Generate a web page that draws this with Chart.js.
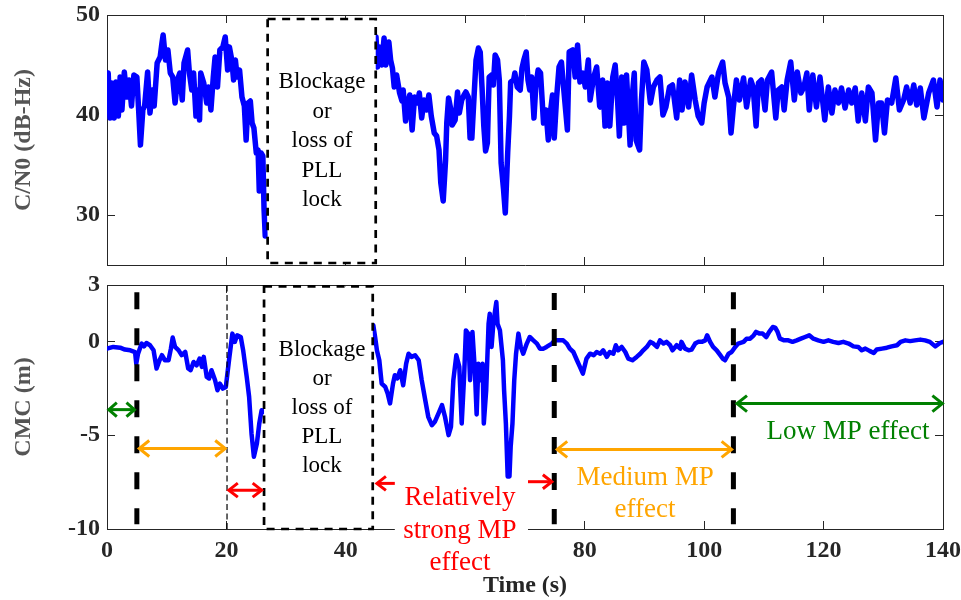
<!DOCTYPE html>
<html>
<head>
<meta charset="utf-8">
<title>C/N0 and CMC</title>
<script src="https://cdn.jsdelivr.net/npm/chart.js@4.4.1/dist/chart.umd.min.js"></script>
<style>
  html, body { margin: 0; padding: 0; background: #fff; overflow: hidden; }
  #wrap { position: relative; width: 961px; height: 600px; }
  #cno { position: absolute; left: 0; top: 0; width: 961px; height: 280px; }
  #cmc { position: absolute; left: 0; top: 270px; width: 961px; height: 330px; }
</style>
</head>
<body>
<div id="wrap">
  <canvas id="cno" width="961" height="280"></canvas>
  <canvas id="cmc" width="961" height="330"></canvas>
</div>
<script>
// ---------------------------------------------------------------------------
// Data
// ---------------------------------------------------------------------------
const timeTicks = [0, 20, 40, 60, 80, 100, 120, 140];
const cnoTicks  = [30, 40, 50];
const cmcTicks  = [-10, -5, 0, 3];

// C/N0 before the blockage
const cnoTimeBefore = [
  0, 0.2, 0.5, 0.8, 1.2, 1.5, 1.9, 2.2, 2.5, 2.9,
  3.3, 3.7, 4.1, 4.5, 5.0, 5.3, 5.6, 6.0, 6.3, 6.8,
  7.2, 7.6, 7.9, 8.4, 8.9, 9.2, 9.4, 9.8, 10.2, 10.6,
  11.0, 11.4, 11.8, 12.2, 12.6, 12.9, 13.5, 13.8, 14.2, 14.5,
  14.9, 15.2, 15.5, 15.7, 16.2, 16.7, 17.0, 17.4, 17.8, 18.1,
  18.5, 18.9, 19.4, 19.8, 20.2, 20.5, 20.9, 21.2, 21.5, 21.8,
  22.2, 22.6, 23.0, 23.3, 23.6, 24.0, 24.3, 24.6, 25.0, 25.3,
  25.5, 25.8, 26.1, 26.3, 26.5
];
const cnoValBefore = [
  43.7, 44.2, 39.7, 43.2, 39.7, 43.3, 39.9, 43.8, 40.5, 44.3,
  41.8, 43.5, 40.9, 44.0, 43.8, 40.5, 37.0, 40.5, 40.9, 44.3,
  40.2, 42.5, 40.9, 45.2, 45.8, 47.2, 48.0, 45.5, 46.5, 44.2,
  43.8, 41.2, 43.5, 44.2, 41.5, 45.2, 46.5, 44.2, 42.5, 44.2,
  39.9, 42.5, 39.5, 44.2, 43.2, 41.2, 42.8, 40.5, 43.8, 45.8,
  42.8, 46.5, 46.8, 47.8, 44.5, 46.8, 45.5, 43.5, 45.5, 43.8,
  44.5, 41.8, 40.9, 37.5, 41.2, 41.4, 39.2, 38.7, 36.2, 36.5,
  32.4, 36.2, 35.9, 30.6, 27.9
];

// C/N0 after the blockage
const cnoTimeAfter = [
  45.05, 45.3, 45.6, 46.0, 46.4, 46.7, 47.2, 47.5, 47.8, 48.1,
  48.5, 49.0, 49.4, 49.6, 50.0, 50.5, 50.7, 51.1, 51.5, 52.0,
  52.3, 52.7, 53.1, 53.5, 53.9, 54.3, 54.8, 55.2, 55.6, 55.9,
  56.3, 56.7, 56.9, 57.2, 57.6, 57.8, 58.3, 58.7, 59.0, 59.4,
  59.8, 60.1, 60.5, 60.8, 61.1, 61.5, 61.8, 62.2, 62.5, 62.8,
  63.1, 63.4, 63.7, 64.0, 64.4, 64.7, 65.0, 65.4, 65.7, 66.0,
  66.4, 66.7, 67.1, 67.4, 67.6, 68.1, 68.3, 68.7, 69.2, 69.5,
  69.8, 70.2, 70.5, 70.8, 71.1, 71.5, 71.8, 72.2, 72.6, 73.1,
  73.5, 73.9, 74.3, 74.6, 74.9, 75.3, 75.7, 76.1, 76.5, 77.1,
  77.4, 78.0, 78.4, 78.8, 79.2, 79.7, 80.1, 80.6, 80.9, 81.5,
  82.0, 82.5, 82.6, 83.0, 83.4, 83.8, 84.2, 84.7, 85.1, 85.5,
  85.8, 86.2, 86.6, 87.0, 87.6, 87.9, 88.3, 88.6, 89.2, 89.5,
  89.9, 90.4, 91.0, 91.5, 92.1, 92.6, 93.1, 93.6, 94.2, 94.7,
  95.4, 95.9, 96.3, 96.8, 97.4, 97.9, 98.5, 99.0, 99.6, 100.0,
  100.5, 101.3, 101.8, 102.4, 103.1, 103.5, 104.1, 104.5, 104.9, 105.4,
  105.9, 106.6, 107.1, 107.8, 108.2, 108.7, 109.1, 109.6, 110.2, 110.6,
  111.3, 112.0, 112.4, 113.0, 113.4, 113.9, 114.5, 115.1, 115.6, 116.2,
  116.7, 117.2, 117.6, 118.2, 118.8, 119.4, 120.2, 120.8, 121.4, 121.9,
  122.5, 123.0, 123.6, 124.2, 124.7, 125.3, 125.8, 126.4, 127.0, 127.5,
  128.1, 128.7, 129.2, 129.7, 130.2, 130.7, 131.4, 132.1, 132.7, 133.4,
  133.9, 134.5, 135.1, 135.6, 136.2, 136.8, 137.6, 138.4, 139.0, 139.5,
  140.0
];
const cnoValAfter = [
  47.8, 44.8, 46.8, 45.0, 47.7, 45.0, 47.3, 45.5, 44.7, 42.8,
  44.0, 42.2, 41.4, 42.5, 39.4, 41.5, 42.0, 38.5, 41.8, 41.2,
  42.2, 39.7, 41.5, 40.5, 42.0, 39.9, 38.2, 37.9, 36.5, 33.2,
  31.4, 35.5, 39.2, 41.7, 40.5, 39.0, 39.5, 42.3, 40.2, 41.5,
  42.0, 42.3, 41.8, 37.7, 37.7, 42.2, 45.5, 46.7, 46.3, 42.8,
  38.9, 36.4, 37.2, 43.8, 44.0, 43.0, 46.0, 45.5, 43.5, 35.2,
  32.6, 30.2, 36.2, 39.9, 43.3, 43.5, 44.2, 42.8, 42.5, 44.7,
  45.5, 46.3, 43.5, 42.5, 43.8, 39.7, 42.8, 44.5, 44.2, 39.2,
  40.5, 37.5, 40.5, 42.0, 37.7, 41.8, 44.8, 45.3, 42.5, 38.5,
  46.3, 46.5, 43.8, 47.0, 43.3, 44.2, 42.8, 45.5, 41.5, 43.8,
  44.8, 40.9, 40.8, 43.5, 38.9, 43.2, 38.9, 43.8, 45.0, 41.5,
  37.9, 43.8, 39.2, 44.0, 37.0, 41.5, 44.2, 37.5, 36.5, 41.5,
  45.3, 44.5, 41.2, 42.8, 43.5, 43.8, 40.0, 40.8, 42.8, 43.0,
  39.7, 43.5, 40.5, 43.3, 40.8, 44.0, 41.5, 39.9, 39.2, 41.2,
  42.8, 43.8, 41.8, 44.2, 45.3, 43.2, 41.8, 38.2, 40.8, 43.5,
  41.5, 43.7, 40.8, 43.5, 42.8, 38.9, 43.2, 43.5, 40.5, 43.5,
  44.3, 39.7, 42.5, 42.8, 40.5, 43.5, 45.3, 41.5, 44.3, 42.2,
  42.8, 44.2, 40.5, 44.0, 40.8, 43.8, 39.5, 42.8, 40.2, 42.5,
  41.2, 42.7, 40.7, 42.5, 41.2, 42.7, 39.4, 42.2, 39.4, 42.8,
  42.2, 37.5, 41.2, 41.2, 38.2, 41.5, 41.2, 43.7, 40.5, 41.5,
  42.8, 41.2, 43.0, 41.0, 42.7, 39.7, 42.2, 43.5, 40.8, 43.5,
  41.5
];

// CMC before the blockage
const cmcTimeBefore = [
  0, 1.06, 2.2, 3.0, 3.9, 4.7, 4.9, 5.2, 5.8, 6.2,
  6.6, 7.2, 7.8, 8.3, 8.8, 9.2, 9.7, 10.3, 10.7, 11.0,
  11.4, 12.0, 12.5, 13.1, 13.6, 14.0, 14.5, 15.0, 15.5, 15.9,
  16.2, 16.7, 17.1, 17.5, 18.1, 18.5, 18.9, 19.4, 19.9, 20.5,
  21.0, 21.4, 21.8, 22.4, 22.8, 23.4, 23.8, 24.2, 24.6, 25.1,
  25.5, 25.9, 26.2
];
const cmcValBefore = [
  -0.39, -0.3, -0.34, -0.44, -0.48, -0.57, -1.19, -0.66, -0.12, -0.27,
  -0.09, -0.21, -0.48, -1.45, -1.01, -0.74, -1.01, -1.01, -0.39, 0.2,
  -0.3, -0.48, -0.74, -0.57, -1.45, -1.54, -1.1, -1.28, -0.92, -1.36,
  -0.83, -1.9, -1.98, -1.54, -2.07, -2.61, -2.25, -2.52, -2.43, -0.83,
  0.41, -0.03, 0.32, 0.23, -0.48, -1.9, -2.96, -4.91, -6.15, -5.44,
  -4.38, -3.67, -3.76
];

// CMC after the blockage
const cmcTimeAfter = [
  44.6, 44.9, 45.2, 45.6, 46.0, 46.6, 47.0, 47.4, 47.9, 48.2,
  48.6, 49.1, 49.6, 50.1, 50.5, 51.0, 51.6, 52.2, 52.7, 53.3,
  53.8, 54.4, 54.9, 55.5, 56.1, 56.6, 57.2, 57.6, 58.0, 58.5,
  59.0, 59.4, 59.8, 60.1, 60.5, 60.8, 61.2, 61.6, 61.9, 62.2,
  62.6, 62.9, 63.1, 63.5, 63.9, 64.1, 64.4, 64.7, 65.0, 65.2,
  65.4, 65.8, 66.3, 66.5, 66.8, 67.1, 67.4, 67.6, 67.9, 68.2,
  68.5, 68.9, 69.3, 69.7, 70.3, 70.8, 71.4, 72.0, 72.5, 73.1,
  73.6, 74.5, 75.0, 75.9, 76.4, 77.0, 77.5, 78.1, 78.7, 79.2,
  79.7, 80.3, 80.9, 81.5, 82.0, 82.6, 83.1, 83.7, 84.2, 84.8,
  85.2, 85.6, 86.2, 86.8, 87.3, 88.0, 88.7, 89.3, 89.8, 90.4,
  91.0, 91.5, 92.1, 92.6, 93.2, 93.7, 94.3, 94.7, 95.4, 96.0,
  96.2, 96.8, 97.4, 97.9, 98.5, 99.0, 99.6, 100.2, 100.5, 101.0,
  101.5, 102.1, 102.7, 103.1, 103.5, 104.1, 104.6, 105.2, 105.7, 106.6,
  107.1, 107.7, 108.3, 108.7, 109.3, 109.8, 110.4, 110.9, 111.5, 111.9,
  112.3, 112.7, 113.4, 114.1, 114.8, 115.5, 116.2, 116.9, 117.6, 118.3,
  119.1, 120.0, 120.8, 121.6, 122.5, 123.3, 124.2, 125.0, 125.8, 126.4,
  127.0, 127.7, 128.4, 128.9, 129.8, 130.6, 131.4, 132.3, 132.9, 133.7,
  134.5, 135.3, 136.2, 137.0, 137.8, 138.7, 139.5, 140.0
];
const cmcValAfter = [
  0.85, 0.23, -0.48, -1.01, -2.25, -2.43, -2.78, -3.31, -2.25, -1.81,
  -1.98, -1.54, -2.34, -1.19, -0.66, -0.83, -0.74, -1.01, -2.07, -3.14,
  -4.02, -4.47, -4.29, -3.85, -3.4, -4.02, -5.0, -4.56, -2.07, -0.74,
  -1.36, -4.38, -1.9, 0.58, 0.41, -2.07, 0.5, -1.54, -3.9, -1.19,
  -2.07, -1.19, -4.38, -2.61, 0.94, 1.47, -0.3, 0.94, 1.65, 2.09,
  0.94, 0.59, -1.01, -2.61, -4.38, -7.2, -7.2, -5.62, -4.38, -2.07,
  -0.66, 0.41, -0.3, -0.66, -0.12, 0.23, 0.05, -0.12, -0.39, -0.39,
  -0.3, -0.12, 0.05, 0.05, 0.05, -0.12, -0.39, -0.57, -1.01, -1.36,
  -1.72, -0.92, -0.66, -0.74, -0.57, -0.66, -0.48, -0.83, -0.57, -0.66,
  -0.21, -0.48, -0.3, -0.57, -0.92, -1.01, -0.83, -0.66, -0.48, -0.3,
  -0.03, -0.12, -0.3, 0.05, -0.12, -0.03, -0.21, -0.48, -0.21, -0.39,
  -0.03, -0.39, -0.48, -0.44, -0.12, -0.03, -0.03, 0.05, 0.32, -0.03,
  -0.3, -0.48, -0.74, -0.92, -1.01, -0.66, -0.57, -0.3, -0.12, -0.03,
  0.14, 0.14, 0.32, 0.5, 0.41, 0.41, 0.23, 0.5, 0.76, 0.73,
  0.5, 0.14, 0.05, 0.05, -0.03, 0.05, 0.14, 0.23, 0.32, 0.14,
  0.05, -0.03, 0.05, -0.03, -0.09, -0.03, -0.12, -0.27, -0.3, -0.48,
  -0.39, -0.51, -0.62, -0.44, -0.39, -0.34, -0.27, -0.21, -0.03, 0.05,
  0.01, 0.05, 0.09, 0.05, -0.03, -0.27, -0.09, -0.03
];

// annotation texts
const blockageLines = ['Blockage', 'or', 'loss of', 'PLL', 'lock'];
const strongLines   = ['Relatively', 'strong MP', 'effect'];
const mediumLines   = ['Medium MP', 'effect'];
const lowLines      = ['Low MP effect'];

// ---------------------------------------------------------------------------
// Style
// ---------------------------------------------------------------------------
const FONT   = '"Liberation Serif", "Times New Roman", serif';
const INK    = '#262626';
const BLUE   = '#0000ff';
const GREEN  = '#008000';
const ORANGE = '#ffa500';
const RED    = '#ff0000';

function pts(ts, vs){ return ts.map((t, i) => ({ x: t, y: vs[i] })); }

// overlay: boxes, dashed dividers, arrows and labels in data units
const overlay = {
  id: 'overlay',
  afterDraw(chart, args, opts){
    const ctx = chart.ctx;
    const X = v => chart.scales.x.getPixelForValue(v);
    const Y = v => chart.scales.y.getPixelForValue(v);
    ctx.save();
    for (const m of (opts.marks || [])){
      ctx.setLineDash([]);
      ctx.lineCap = 'butt';
      if (m.type === 'rect'){
        const x0 = X(m.x0), x1 = X(m.x1), y0 = Y(m.y1), y1 = Y(m.y0);
        if (m.fill){ ctx.fillStyle = m.fill; ctx.fillRect(x0, y0, x1 - x0, y1 - y0); }
        ctx.strokeStyle = '#000'; ctx.lineWidth = 2.7; ctx.setLineDash([8, 6.5]);
        ctx.strokeRect(x0, y0, x1 - x0, y1 - y0);
      } else if (m.type === 'mask'){
        ctx.fillStyle = '#fff';
        ctx.fillRect(X(m.x0), Y(m.y1), X(m.x1) - X(m.x0), Y(m.y0) - Y(m.y1));
      } else if (m.type === 'vline'){
        ctx.strokeStyle = '#000'; ctx.lineWidth = m.width; ctx.setLineDash(m.dash);
        ctx.beginPath(); ctx.moveTo(X(m.x), Y(m.y0)); ctx.lineTo(X(m.x), Y(m.y1)); ctx.stroke();
      } else if (m.type === 'arrow'){
        const a = X(m.x0), b = X(m.x1), y = Y(m.y);
        const L = m.len || 10, H = m.half || 8;
        ctx.strokeStyle = m.color; ctx.lineWidth = m.width || 3; ctx.lineJoin = 'miter';
        ctx.beginPath(); ctx.moveTo(a, y); ctx.lineTo(b, y); ctx.stroke();
        const head = (tip, dir) => {
          ctx.beginPath();
          ctx.moveTo(tip - dir * L, y - H); ctx.lineTo(tip, y); ctx.lineTo(tip - dir * L, y + H);
          ctx.stroke();
        };
        if (m.start) head(a, -1);
        if (m.end) head(b, 1);
      } else if (m.type === 'text'){
        ctx.fillStyle = m.color;
        ctx.font = `${m.size}px ${FONT}`;
        ctx.textAlign = 'center'; ctx.textBaseline = 'middle';
        const x = X(m.x), y = Y(m.y);
        m.lines.forEach((s, i) => ctx.fillText(s, x, y + i * m.gap));
      }
    }
    ctx.restore();
  }
};

// keep the plot frame where the figure has it: no extra room for label overhang
function noOverhang(s){ s.paddingLeft = s.paddingRight = s.paddingTop = s.paddingBottom = 0; }

function xAxis(position, labels, height, title){
  return {
    type: 'linear', position, min: 0, max: 140,
    afterBuildTicks: s => { s.ticks = timeTicks.map(v => ({ value: v })); },
    afterFit: s => { s.height = height; noOverhang(s); },
    grid: { drawOnChartArea: false, drawTicks: true, tickLength: -8, color: INK, lineWidth: 1 },
    border: { display: true, color: INK, width: 1 },
    ticks: { display: labels, autoSkip: false, maxRotation: 0, padding: 15, color: INK,
             font: { family: FONT, size: 24, weight: 'bold' } },
    title: title ? { display: true, text: title, color: INK, padding: { top: 0, bottom: 0 },
                     font: { family: FONT, size: 24, weight: 'bold' } } : { display: false },
  };
}

function yAxis(position, ticks, min, max, width, title){
  return {
    type: 'linear', position, min, max,
    afterBuildTicks: s => { s.ticks = ticks.map(v => ({ value: v })); },
    afterFit: s => { s.width = width; noOverhang(s); },
    grid: { drawOnChartArea: false, drawTicks: true, tickLength: -8, color: INK, lineWidth: 1 },
    border: { display: true, color: INK, width: 1 },
    ticks: { display: position === 'left', padding: 15, color: INK,
             font: { family: FONT, size: 24, weight: 'bold' } },
    title: title ? { display: true, text: title, color: '#555555', padding: { top: 9, bottom: 0 },
                     font: { family: FONT, size: 24, weight: 'bold' } } : { display: false },
  };
}

function lineSet(data, width){
  return {
    data, xAxisID: 'x', yAxisID: 'y',
    borderColor: BLUE, borderWidth: width, pointRadius: 0, tension: 0,
    borderJoinStyle: 'round', borderCapStyle: 'round', fill: false,
  };
}

function baseOptions(scales, marks){
  return {
    responsive: false, animation: false, devicePixelRatio: 1,
    layout: { padding: { left: 0, right: 18, top: 15, bottom: 0 } },
    plugins: { legend: { display: false }, tooltip: { enabled: false }, overlay: { marks } },
    scales,
  };
}

// ---------------------------------------------------------------------------
// Top: C/N0
// ---------------------------------------------------------------------------
new Chart(document.getElementById('cno'), {
  type: 'line',
  data: { datasets: [
    lineSet(pts(cnoTimeBefore, cnoValBefore), 5.5),
    lineSet(pts(cnoTimeAfter, cnoValAfter), 5.5),
  ]},
  options: baseOptions({
    x:      xAxis('bottom', false, 15),
    xTop:   xAxis('top', false, 0),
    y:      yAxis('left', cnoTicks, 25, 50, 107, 'C/N0 (dB-Hz)'),
    yRight: yAxis('right', cnoTicks, 25, 50, 0),
  }, [
    { type: 'rect', x0: 26.9, x1: 45.0, y0: 25.2, y1: 49.6, fill: '#fff' },
    { type: 'text', x: 36, y: 43.3, gap: 29.5, lines: blockageLines, color: '#000', size: 23 },
  ]),
  plugins: [overlay],
});

// ---------------------------------------------------------------------------
// Bottom: CMC
// ---------------------------------------------------------------------------
new Chart(document.getElementById('cmc'), {
  type: 'line',
  data: { datasets: [
    lineSet(pts(cmcTimeBefore, cmcValBefore), 4.5),
    lineSet(pts(cmcTimeAfter, cmcValAfter), 4.5),
  ]},
  options: baseOptions({
    x:      xAxis('bottom', true, 71, 'Time (s)'),
    xTop:   xAxis('top', false, 0),
    y:      yAxis('left', cmcTicks, -10, 3, 107, 'CMC (m)'),
    yRight: yAxis('right', cmcTicks, -10, 3, 0),
  }, [
    { type: 'rect', x0: 26.3, x1: 44.5, y0: -10, y1: 2.93, fill: '#fff' },
    { type: 'vline', x: 20.1, y0: 2.98, y1: -10, width: 1.2, dash: [6, 3.5] },
    { type: 'vline', x: 5,     y0: 2.62, y1: -9.75, width: 5, dash: [17, 19] },
    { type: 'vline', x: 74.9,  y0: 2.57, y1: -9.75, width: 5, dash: [17, 19] },
    { type: 'vline', x: 104.9, y0: 2.62, y1: -9.75, width: 5, dash: [17, 19] },
    { type: 'arrow', x0: 0.3,   x1: 4.6,   y: -3.64, color: GREEN,  start: true, end: true, width: 3, len: 8, half: 7 },
    { type: 'arrow', x0: 5.4,   x1: 19.8,  y: -5.71, color: ORANGE, start: true, end: true, width: 3, len: 10, half: 8 },
    { type: 'arrow', x0: 20.4,  x1: 25.9,  y: -7.93, color: RED,    start: true, end: true, width: 3, len: 9, half: 7 },
    { type: 'arrow', x0: 45.2,  x1: 48.2,  y: -7.57, color: RED,    start: true, end: false, width: 3, len: 9, half: 7 },
    { type: 'arrow', x0: 70.5,  x1: 74.5,  y: -7.48, color: RED,    start: false, end: true, width: 3, len: 9, half: 7 },
    { type: 'arrow', x0: 75.4,  x1: 104.6, y: -5.76, color: ORANGE, start: true, end: true, width: 3, len: 10, half: 8 },
    { type: 'arrow', x0: 105.5, x1: 139.9, y: -3.32, color: GREEN,  start: true, end: true, width: 3, len: 10, half: 8 },
    { type: 'mask', x0: 48.2, x1: 70.5, y0: -11.75, y1: -7.75 },
    { type: 'text', x: 36, y: -0.48, gap: 28.8, lines: blockageLines, color: '#000', size: 23 },
    { type: 'text', x: 59.1, y: -8.35, gap: 32.5, lines: strongLines, color: RED, size: 27 },
    { type: 'text', x: 90.1, y: -7.3, gap: 31.7, lines: mediumLines, color: ORANGE, size: 27 },
    { type: 'text', x: 124.1, y: -4.82, gap: 30, lines: lowLines, color: GREEN, size: 27 },
  ]),
  plugins: [overlay],
});
</script>
</body>
</html>
